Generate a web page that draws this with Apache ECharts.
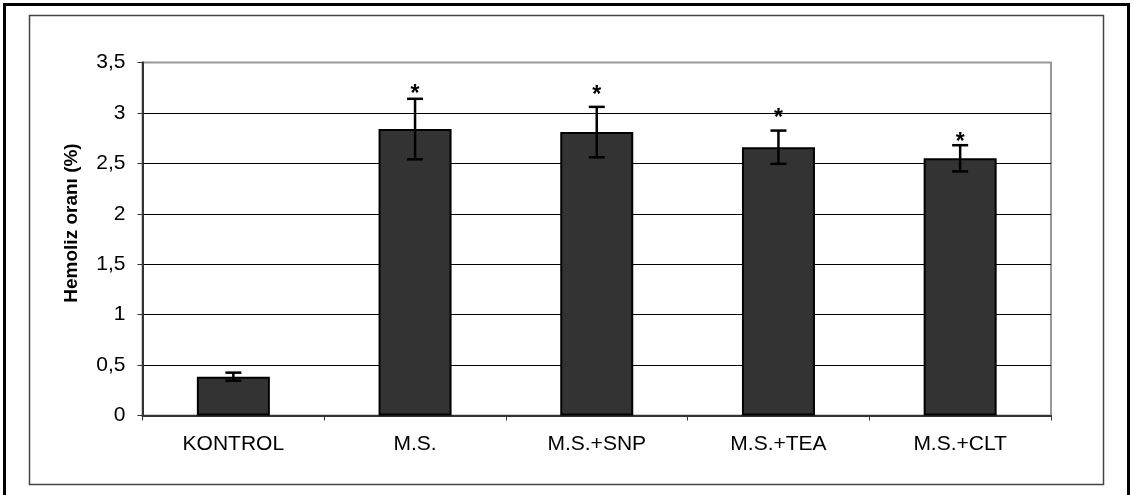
<!DOCTYPE html>
<html>
<head>
<meta charset="utf-8">
<script src="https://cdn.jsdelivr.net/npm/echarts@6/dist/echarts.min.js"></script>
<style>
html,body{margin:0;padding:0;background:#fff;}
#chart{width:1133px;height:495px;}
</style>
</head>
<body>
<div id="chart"></div>
<script>
const categories = ['KONTROL', 'M.S.', 'M.S.+SNP', 'M.S.+TEA', 'M.S.+CLT'];
const means = [0.385, 2.84, 2.81, 2.66, 2.55];
const errors = [0.04, 0.30, 0.25, 0.165, 0.13];
const starLevels = [null, 3.24, 3.235, 3.0, 2.76];
const yAxisTitle = 'Hemoliz oranı (%)';

const FONT = '"Liberation Sans", Arial, sans-serif';
const chart = echarts.init(document.getElementById('chart'), null, {renderer: 'canvas'});

const errData = means.map((m, i) => [i, m - errors[i], m + errors[i]]);
const starData = starLevels.map((v, i) => v == null ? [i, '-'] : [i, v]).filter(d => d[1] !== '-');

chart.setOption({
  animation: false,
  backgroundColor: '#fff',
  grid: {left: 142.5, right: 82, top: 62.5, bottom: 79.5, show: true, borderColor: '#999', borderWidth: 2, backgroundColor: 'transparent'},
  xAxis: {
    type: 'category',
    data: categories,
    axisLine: {lineStyle: {color: '#333', width: 2}},
    axisTick: {show: true, length: 5, lineStyle: {color: '#333', width: 1}},
    axisLabel: {color: '#000', fontFamily: FONT, fontSize: 21, margin: 18}
  },
  yAxis: {
    type: 'value',
    min: 0, max: 3.5, interval: 0.5,
    axisLine: {show: true, lineStyle: {color: '#333', width: 2}},
    axisTick: {show: true, length: 5, lineStyle: {color: '#333', width: 1}},
    axisLabel: {color: '#000', fontFamily: FONT, fontSize: 21, margin: 17,
      formatter: v => String(v).replace('.', ',')},
    splitLine: {show: true, lineStyle: {color: ['#000','#000','#000','#000','#000','#000','#000','#999'], width: 1}}
  },
  graphic: [
    {type: 'rect', shape: {x: 4.5, y: 4.5, width: 1124, height: 500}, style: {fill: 'none', stroke: '#000', lineWidth: 3}, silent: true},
    {type: 'rect', shape: {x: 29.5, y: 15.5, width: 1074, height: 469}, style: {fill: 'none', stroke: '#444', lineWidth: 1.5}, silent: true},
    {type: 'text', x: 72, y: 223, rotation: Math.PI / 2,
      style: {text: yAxisTitle, font: 'bold 19px ' + FONT, fill: '#000', textAlign: 'center', textVerticalAlign: 'middle'}}
  ],
  series: [
    {
      type: 'bar',
      data: means,
      barWidth: 73,
      itemStyle: {color: '#333333', borderColor: '#000', borderWidth: 2},
      z: 2
    },
    {
      type: 'custom',
      data: errData,
      z: 3,
      renderItem: function (params, api) {
        const x = api.coord([api.value(0), 0])[0];
        const lo = api.coord([api.value(0), api.value(1)])[1];
        const hi = api.coord([api.value(0), api.value(2)])[1];
        const hw = 8;
        const st = {stroke: '#000', lineWidth: 2.5};
        return {type: 'group', children: [
          {type: 'line', shape: {x1: x, y1: lo, x2: x, y2: hi}, style: st},
          {type: 'line', shape: {x1: x - hw, y1: hi, x2: x + hw, y2: hi}, style: st},
          {type: 'line', shape: {x1: x - hw, y1: lo, x2: x + hw, y2: lo}, style: st}
        ]};
      },
      encode: {x: 0, y: [1, 2]}
    },
    {
      type: 'custom',
      data: starData,
      z: 4,
      renderItem: function (params, api) {
        const p = api.coord([api.value(0), api.value(1)]);
        return {type: 'text', x: p[0], y: p[1] + 6,
          style: {text: '*', font: 'bold 23px ' + FONT, fill: '#000', textAlign: 'center', textVerticalAlign: 'middle'}};
      },
      encode: {x: 0, y: 1}
    }
  ]
});
</script>
</body>
</html>
